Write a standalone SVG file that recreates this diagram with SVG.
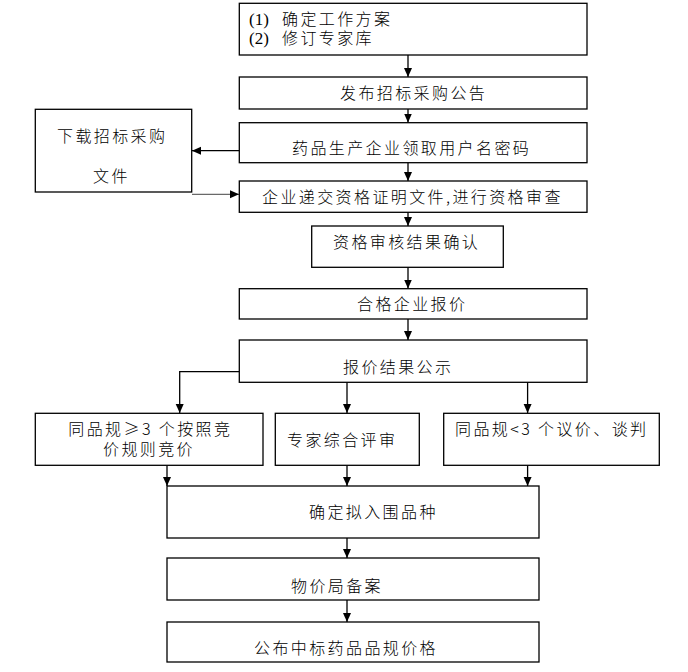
<svg xmlns="http://www.w3.org/2000/svg" width="688" height="672" viewBox="0 0 688 672">
<style>
.box{fill:#fff;stroke:#000;stroke-width:1.3}
.t{font-family:"Noto Sans CJK SC","Liberation Sans",sans-serif;font-size:16px;font-weight:300;letter-spacing:2.4px;fill:#000}
.n{font-family:"Liberation Serif",serif;font-size:17px;letter-spacing:0;fill:#000}
.c{fill:none;stroke:#000;stroke-width:1.3}
.cl{fill:none;stroke:#444;stroke-width:1}
</style>
<defs>
<marker id="ah" markerUnits="userSpaceOnUse" markerWidth="10" markerHeight="10" refX="9" refY="4" orient="auto">
<path d="M0,0 L9,4 L0,8 z" fill="#000"/>
</marker>
</defs>
<rect width="688" height="672" fill="#fff"/>
<g id="connectors">
<line class="c" x1="408" y1="55" x2="408" y2="77" marker-end="url(#ah)"/>
<line class="c" x1="408" y1="109" x2="408" y2="122.5" marker-end="url(#ah)"/>
<line class="c" x1="408" y1="163" x2="408" y2="181" marker-end="url(#ah)"/>
<line class="c" x1="408" y1="212" x2="408" y2="226" marker-end="url(#ah)"/>
<line class="c" x1="408" y1="267" x2="408" y2="288.5" marker-end="url(#ah)"/>
<line class="c" x1="408" y1="319" x2="408" y2="340" marker-end="url(#ah)"/>
<line class="c" x1="239" y1="150.7" x2="192" y2="150.7" marker-end="url(#ah)"/>
<line class="cl" x1="192" y1="194.3" x2="239" y2="194.3" marker-end="url(#ah)"/>
<polyline class="c" points="239,371.7 179.7,371.7 179.7,413" marker-end="url(#ah)"/>
<line class="c" x1="347" y1="382" x2="347" y2="413" marker-end="url(#ah)"/>
<line class="c" x1="527.6" y1="382" x2="527.6" y2="413" marker-end="url(#ah)"/>
<line class="c" x1="167" y1="465.3" x2="167" y2="486" marker-end="url(#ah)"/>
<line class="c" x1="347" y1="465.3" x2="347" y2="486" marker-end="url(#ah)"/>
<line class="c" x1="527.6" y1="465.3" x2="527.6" y2="486" marker-end="url(#ah)"/>
<line class="c" x1="347" y1="538" x2="347" y2="558" marker-end="url(#ah)"/>
<line class="c" x1="347" y1="600" x2="347" y2="622" marker-end="url(#ah)"/>
</g>
<g id="n1"><rect class="box" x="239.3" y="3.3" width="347.7" height="51.7"/>
<text class="t"><tspan class="n" x="249" y="25">(1)</tspan><tspan x="282" y="25">确定工作方案</tspan><tspan class="n" x="249" y="44">(2)</tspan><tspan x="282" y="44">修订专家库</tspan></text></g>
<g id="n2"><rect class="box" x="239.3" y="77" width="347.7" height="32"/><text class="t" x="340" y="99">发布招标采购公告</text></g>
<g id="n3"><rect class="box" x="239.3" y="122.7" width="347.7" height="40"/><text class="t" x="292" y="154">药品生产企业领取用户名密码</text></g>
<g id="n_left"><rect class="box" x="35.3" y="109.3" width="156.4" height="82.7"/><text class="t"><tspan x="57" y="142">下载招标采购</tspan><tspan x="93" y="182">文件</tspan></text></g>
<g id="n4"><rect class="box" x="239.3" y="181" width="347.7" height="31.3"/><text class="t" x="262" y="203">企业递交资格证明文件,进行资格审查</text></g>
<g id="n5"><rect class="box" x="311.7" y="226" width="191.6" height="41.3"/><text class="t" x="333" y="248">资格审核结果确认</text></g>
<g id="n6"><rect class="box" x="239.3" y="288.7" width="347.7" height="30.3"/><text class="t" x="357" y="310">合格企业报价</text></g>
<g id="n7"><rect class="box" x="239.3" y="340" width="347.7" height="42.3"/><text class="t" x="343" y="373">报价结果公示</text></g>
<g id="b1"><rect class="box" x="35.3" y="413.3" width="227.7" height="52"/><text class="t"><tspan x="68.3" y="435">同品规≥3 个按照竞</tspan><tspan x="103" y="455">价规则竞价</tspan></text></g>
<g id="b2"><rect class="box" x="275.3" y="413.3" width="144" height="52"/><text class="t" x="287" y="446">专家综合评审</text></g>
<g id="b3"><rect class="box" x="443.7" y="413.3" width="215.6" height="52"/><text class="t" x="455" y="435">同品规&lt;3 个议价、谈判</text></g>
<g id="n8"><rect class="box" x="167" y="486" width="372" height="52"/><text class="t" x="309" y="518">确定拟入围品种</text></g>
<g id="n9"><rect class="box" x="167" y="558" width="372" height="42"/><text class="t" x="291" y="592">物价局备案</text></g>
<g id="n10"><rect class="box" x="167" y="622" width="372" height="40"/><text class="t" x="254" y="654">公布中标药品品规价格</text></g>
</svg>
